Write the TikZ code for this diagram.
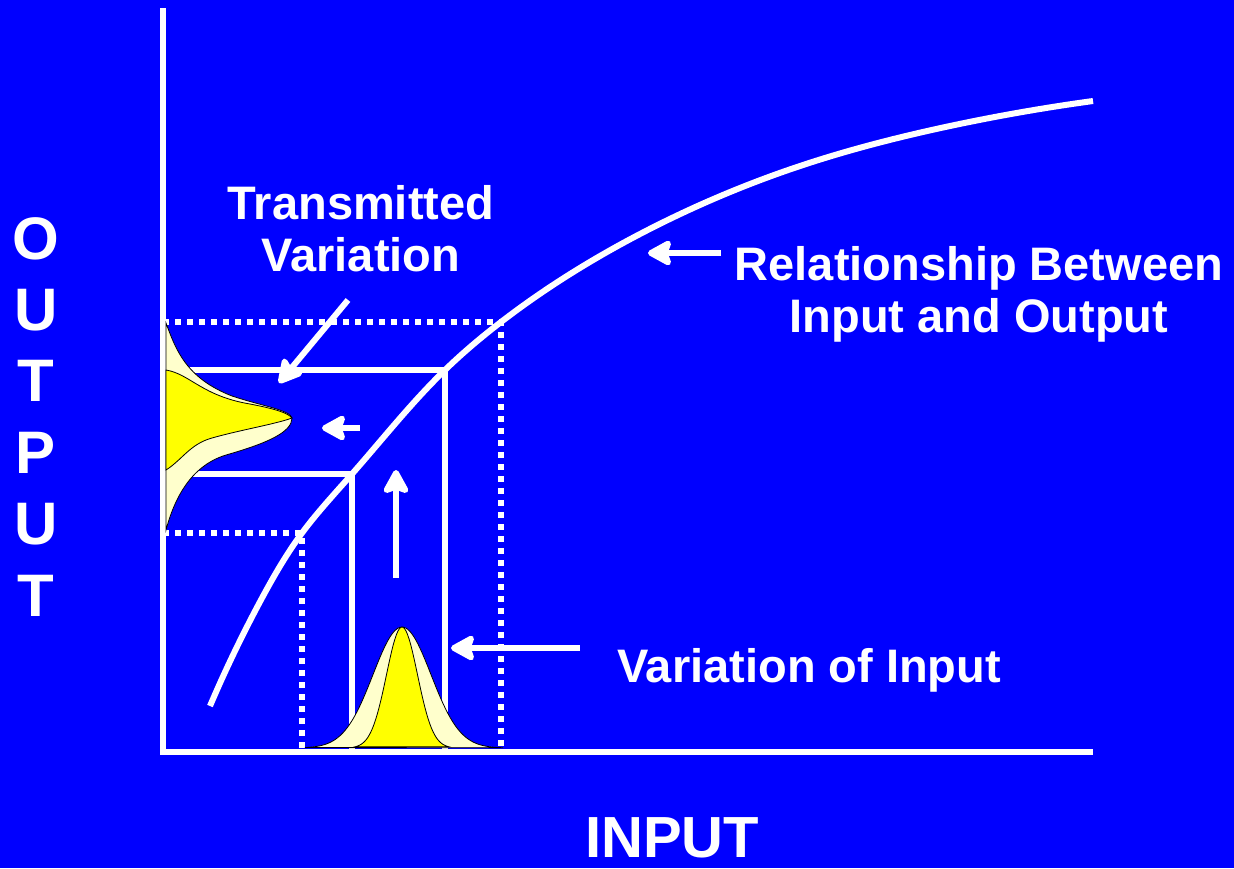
\documentclass[tikz,border=0pt]{standalone}
\usepackage{fontspec}
\setmainfont{Liberation Sans}
\usetikzlibrary{arrows.meta,positioning,hobby}
\definecolor{slideblue}{RGB}{0,0,255}
\definecolor{paleyellow}{RGB}{255,255,204}
\definecolor{brightyellow}{RGB}{255,255,0}

\begin{document}
\begin{tikzpicture}[
x=1pt, y=-1pt,
axis/.style={white, line width=6pt},
guide/.style={white, line width=6pt},
dotguide/.style={white, line width=6pt, dash pattern=on 6pt off 6pt},
curve/.style={white, line width=6pt},
arrow/.style={white, line width=6pt, -{Stealth[round, length=28pt, width=30pt, inset=5pt]}},
label/.style={text=white, font=\fontsize{47}{52}\selectfont\bfseries, inner sep=0pt, align=center},
bell/.style={draw=black, line width=0.8pt}
]
\fill[slideblue] (0,0) rectangle (1234,868);

% axes
\coordinate (origin) at (163,752);
\coordinate (ytop) at (163,8);
\coordinate (xend) at (1093,752);
\draw[axis] (ytop) -- (origin) -- (xend);

% corners on the curve
\coordinate (outhi) at (501,322);
\coordinate (inhi) at (445,370);
\coordinate (inlo) at (352,474);
\coordinate (outlo) at (302,533);

% guide lines
\draw[dotguide] (163,322) -| (outhi |- origin);
\draw[dotguide] (163,533) -| (outlo |- origin);
\draw[guide] (163,370) -| (inhi |- origin);
\draw[guide] (163,474) -| (inlo |- origin);

% input/output relationship
\draw[curve, use Hobby shortcut] (210,706) .. (262,598) .. (outlo) .. (inlo) .. (inhi) .. (outhi) .. (640,234) .. (800,166) .. (950,126) .. (1093,101);

% input distribution
\filldraw[bell, fill=paleyellow] plot[domain=305:503, samples=80] (\x, {748-121*exp(-0.5*((\x-402)/29)^2)}) -- cycle;
\filldraw[bell, fill=brightyellow] plot[domain=355:449, samples=60] (\x, {748-121*exp(-0.5*((\x-402)/15.5)^2)}) -- cycle;

% transmitted distribution
\filldraw[bell, fill=paleyellow] (166,323) .. controls (176,350) and (186,378) .. (232,396)
  .. controls (262,406) and (290,410) .. (292,418)
  .. controls (292,432) and (268,443) .. (226,455)
  .. controls (190,466) and (174,500) .. (166,530) -- cycle;
\filldraw[bell, fill=brightyellow] (166,370) .. controls (190,374) and (202,396) .. (250,404)
  .. controls (276,409) and (288,413) .. (292,418)
  .. controls (276,424) and (240,430) .. (212,438)
  .. controls (190,444) and (182,460) .. (166,470) -- cycle;

% labels
\node[label, anchor=north] (transmitted) at (361,185) {Transmitted\\Variation};
\node[label, anchor=north] (relation) at (979,246) {Relationship Between\\Input and Output};
\node[label, anchor=base west] (varinput) at (617,682) {Variation of Input};
\node[label, anchor=base west, font=\fontsize{58}{60}\selectfont\bfseries] (inputlbl) at (585,857) {INPUT};
\node[label, anchor=north, font=\fontsize{60}{71.4}\selectfont\bfseries] (outputlbl) at (36,217) {O\\U\\T\\P\\U\\T};

% pointers
\coordinate (tvtail) at (348,300);
\coordinate (tvtip) at (279,383);
\coordinate (leftail) at (360,428);
\coordinate (leftip) at (322,428);
\coordinate (uptail) at (396,578);
\coordinate (uptip) at (396,470);
\coordinate (vitail) at (580,648);
\coordinate (vitip) at (451,648);
\coordinate (reltail) at (721,253);
\coordinate (reltip) at (648,253);
\draw[arrow] (tvtail) -- (tvtip);
\draw[arrow] (leftail) -- (leftip);
\draw[arrow] (uptail) -- (uptip);
\draw[arrow] (vitail) -- (vitip);
\draw[arrow] (reltail) -- (reltip);
\end{tikzpicture}
\end{document}
